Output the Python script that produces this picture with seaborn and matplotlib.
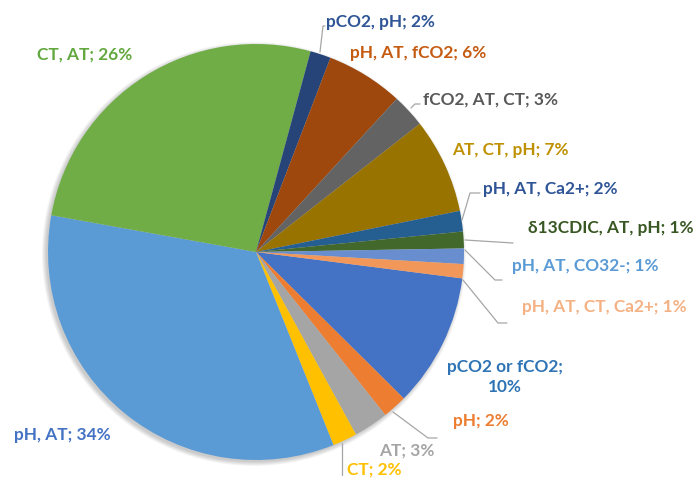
import matplotlib
matplotlib.use("Agg")
import matplotlib.pyplot as plt
import seaborn as sns
from matplotlib.patches import Circle

# data (Excel series order, first slice starts at ~97 deg clockwise from 12 o'clock)
names = ["pCO2 or fCO2", "pH", "AT", "CT", "pH, AT", "CT, AT", "pCO2, pH",
         "pH, AT, fCO2", "fCO2, AT, CT", "AT, CT, pH", "pH, AT, Ca2+",
         "δ13CDIC, AT, pH", "pH, AT, CO32-", "pH, AT, CT, Ca2+"]
shares = [10.4, 1.9, 2.7, 1.9, 33.9, 26.4, 1.6, 6.0, 2.6, 7.4, 1.6, 1.3, 1.2, 1.1]

slice_colors = ["#4472C4", "#ED7D31", "#A5A5A5", "#FFC000", "#5B9BD5", "#70AD47",
                "#264478", "#9E480E", "#636363", "#997300", "#255E91", "#43682B",
                "#698ED0", "#F1975A"]
text_colors = ["#2E74B5", "#ED7D31", "#A5A5A5", "#FFC000", "#4472C4", "#62A83F",
               "#2F5597", "#C55A11", "#595959", "#BF9000", "#2F5597", "#385723",
               "#5B9BD5", "#F4B183"]

W, H = 698, 480


def px(x, y):
    # pixel position (from top-left) -> data coords
    return x, H - y


# label layout: left x, center y in pixels
label_pos = [(505, 377), (453, 421), (379, 451), (347, 470), (14, 435), (37, 55),
             (326, 22), (350, 53), (423, 100), (452, 150), (483, 189),
             (528, 228), (512, 266), (522, 307)]

leaders = {
    2: [(393, 412), (428, 438), (437, 438)],
    3: [(342, 443), (342, 475)],
    6: [(320, 52), (323, 26), (325, 26)],
    8: [(411, 108), (415, 104), (420, 104)],
    10: [(462, 220), (470, 193), (480, 193)],
    11: [(465, 240), (513, 243)],
    12: [(465, 250), (495, 280), (502, 280)],
    13: [(463, 280), (498, 323), (507, 323)],
}

sns.set_theme(style="white")
plt.rcParams['font.family'] = ['Lato', 'DejaVu Sans']

fig = plt.figure(figsize=(W / 100, H / 100), dpi=100)
ax = fig.add_axes([0, 0, 1, 1])

cx, cy = px(256, 252)
r = 208

# soft shadow
for k in range(6):
    ax.add_patch(Circle((cx - 2, cy - 2), r + k * 0.8, color="black",
                        alpha=0.035, lw=0, zorder=0))

ax.pie(shares, colors=sns.color_palette(slice_colors), startangle=90 - 97.3,
       counterclock=False, center=(cx, cy), radius=r,
       wedgeprops=dict(linewidth=0))

fs = 12.4
for i, (name, v) in enumerate(zip(names, shares)):
    x, y = px(*label_pos[i])
    if i == 0:
        ax.text(x, y, f"{name};\n{v:.0f}%", ha="center", va="center",
                multialignment="center", color=text_colors[i],
                fontsize=fs, fontweight="bold", linespacing=1.25)
    else:
        ax.text(x, y, f"{name}; {v:.0f}%", ha="left", va="center",
                color=text_colors[i], fontsize=fs, fontweight="bold")

for i, pts in leaders.items():
    xs = [p[0] for p in pts]
    ys = [H - p[1] for p in pts]
    ax.plot(xs, ys, color="#A6A6A6", lw=0.9, zorder=3)

ax.set_xlim(0, W)
ax.set_ylim(0, H)
ax.set_aspect("equal")
ax.axis("off")

fig.savefig("out.png", dpi=100, facecolor="white")
